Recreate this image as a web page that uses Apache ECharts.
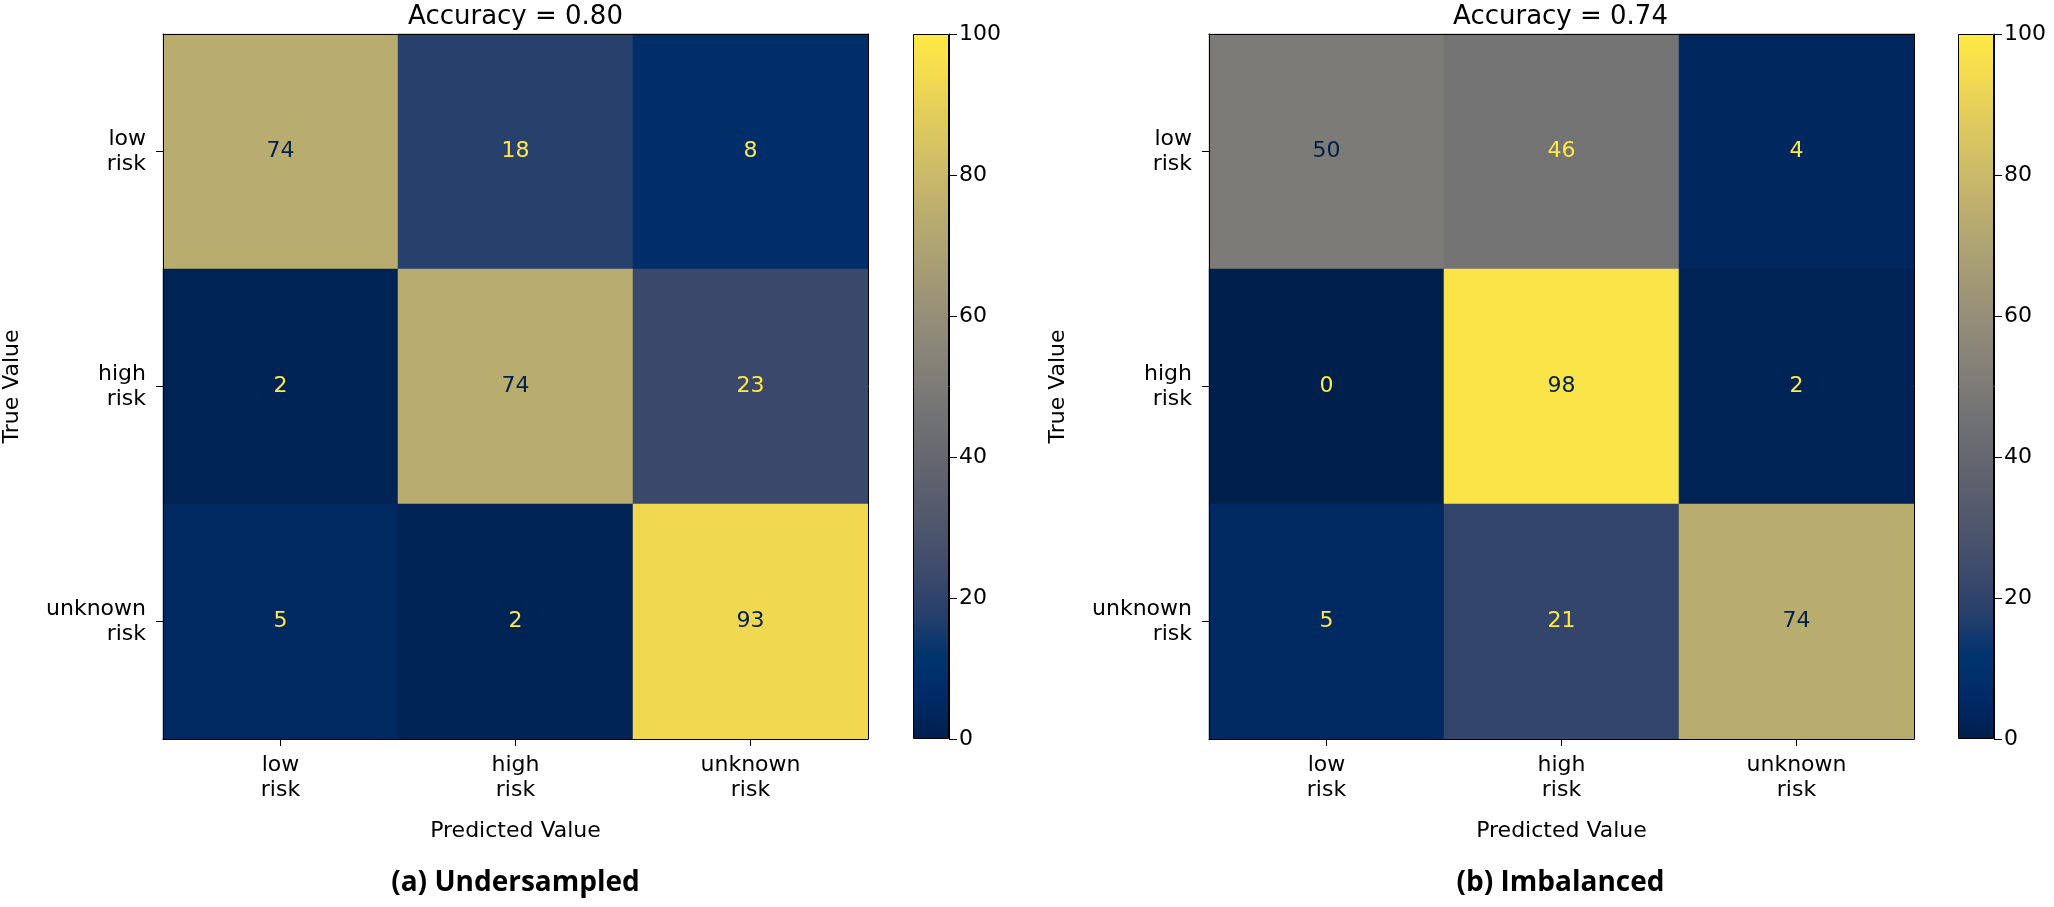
<!DOCTYPE html>
<html>
<head>
<meta charset="utf-8">
<title>Confusion matrices</title>
<script src="https://cdn.jsdelivr.net/npm/echarts@6/dist/echarts.min.js"></script>
<style>
  html, body { margin: 0; padding: 0; background: #fff; }
  #chart { width: 2054px; height: 907px; }
</style>
</head>
<body>
<div id="chart"></div>
<script>
// data
var categories = ['low\nrisk', 'high\nrisk', 'unknown\nrisk'];
// rows = true value, columns = predicted value
var undersampled = [
  [74, 18, 8],
  [2, 74, 23],
  [5, 2, 93]
];
var imbalanced = [
  [50, 46, 4],
  [0, 98, 2],
  [5, 21, 74]
];
var titles = ['Accuracy = 0.80', 'Accuracy = 0.74'];
var captions = ['(a) Undersampled', '(b) Imbalanced'];
var scaleRange = [0, 100];
var scaleStep = 20;

// cividis colormap stops
var cividis = ['#00204c', '#002a66', '#00346e', '#273f6c', '#3c4a6b', '#4c556b', '#5b5f6d', '#686a70',
  '#757575', '#838178', '#928c78', '#a19876', '#b0a572', '#c0b16d', '#d1bf66', '#e1cc5c', '#f3db4f', '#ffe945'];

var FONT = 'DejaVu Sans';
var panels = [
  { left: 163, cbLeft: 913, mid: 515.5, data: undersampled },
  { left: 1209, cbLeft: 1958, mid: 1560.5, data: imbalanced }
];
var TOP = 34, SIZE = 705, CBW = 36;

// build heatmap cells with matplotlib style text colour switch
function toCells(matrix) {
  var flat = [].concat.apply([], matrix);
  var thresh = (Math.max.apply(null, flat) + Math.min.apply(null, flat)) / 2;
  var cells = [];
  matrix.forEach(function (row, r) {
    row.forEach(function (v, c) {
      cells.push({
        value: [c, r, v],
        label: { color: v < thresh ? cividis[cividis.length - 1] : cividis[0] }
      });
    });
  });
  return cells;
}

var gradStops = cividis.map(function (c, i) {
  return { offset: i / (cividis.length - 1), color: c };
});

var grid = [], xAxis = [], yAxis = [], series = [], title = [];

panels.forEach(function (p, k) {
  var g = grid.length;
  grid.push({ left: p.left, top: TOP, width: SIZE, height: SIZE });
  grid.push({ left: p.cbLeft, top: TOP, width: CBW, height: SIZE });

  var lineStyle = { color: '#000', width: 1 };
  // heatmap axes
  var xi = xAxis.length, yi = yAxis.length;
  xAxis.push({
    type: 'category', gridIndex: g, data: categories, z: 10,
    name: 'Predicted Value', nameLocation: 'middle', nameGap: 81,
    nameTextStyle: { fontFamily: FONT, fontSize: 22, color: '#000' },
    axisLine: { show: true, lineStyle: lineStyle },
    axisTick: { show: true, alignWithLabel: true, length: 7, lineStyle: lineStyle },
    axisLabel: { fontFamily: FONT, fontSize: 22, lineHeight: 25, color: '#000', margin: 14 },
    splitLine: { show: false }
  });
  xAxis.push({
    type: 'category', gridIndex: g, data: categories, position: 'top', z: 10,
    axisLine: { show: true, lineStyle: lineStyle },
    axisTick: { show: false }, axisLabel: { show: false }
  });
  yAxis.push({
    type: 'category', gridIndex: g, data: categories, inverse: true, z: 10,
    name: 'True Value', nameLocation: 'middle', nameGap: 140,
    nameTextStyle: { fontFamily: FONT, fontSize: 22, color: '#000' },
    axisLine: { show: true, lineStyle: lineStyle },
    axisTick: { show: true, alignWithLabel: true, length: 7, lineStyle: lineStyle },
    axisLabel: { fontFamily: FONT, fontSize: 22, lineHeight: 25, color: '#000', margin: 17, align: 'right' },
    splitLine: { show: false }
  });
  yAxis.push({
    type: 'category', gridIndex: g, data: categories, inverse: true, position: 'right', z: 10,
    axisLine: { show: true, lineStyle: lineStyle },
    axisTick: { show: false }, axisLabel: { show: false }
  });
  series.push({
    type: 'heatmap', xAxisIndex: xi, yAxisIndex: yi,
    data: toCells(p.data),
    label: { show: true, fontFamily: FONT, fontSize: 22 },
    emphasis: { disabled: true }
  });

  // colorbar axes
  var cxi = xAxis.length, cyi = yAxis.length;
  xAxis.push({ type: 'category', gridIndex: g + 1, data: [''], show: false });
  yAxis.push({
    type: 'value', gridIndex: g + 1, position: 'right', z: 10,
    min: scaleRange[0], max: scaleRange[1], interval: scaleStep,
    axisLine: { show: true, lineStyle: lineStyle },
    axisTick: { show: true, length: 8, lineStyle: lineStyle },
    axisLabel: { fontFamily: FONT, fontSize: 22, color: '#000', margin: 10 },
    splitLine: { show: false }
  });
  series.push({
    type: 'bar', xAxisIndex: cxi, yAxisIndex: cyi, barWidth: '100%',
    data: [scaleRange[1]], silent: true,
    itemStyle: {
      color: new echarts.graphic.LinearGradient(0, 1, 0, 0, gradStops),
      borderColor: '#000', borderWidth: 1
    }
  });

  title.push({
    text: titles[k], left: p.mid, top: 4, textAlign: 'center', padding: 0,
    textStyle: { fontFamily: FONT, fontSize: 26, fontWeight: 'normal', color: '#000' }
  });
  title.push({
    text: captions[k], left: p.mid, top: 869, textAlign: 'center', padding: 0,
    textStyle: { fontFamily: 'Open Sans', fontSize: 28, fontWeight: 'bold', color: '#000' }
  });
});

var chart = echarts.init(document.getElementById('chart'));
chart.setOption({
  animation: false,
  backgroundColor: '#fff',
  title: title,
  grid: grid,
  xAxis: xAxis,
  yAxis: yAxis,
  visualMap: [{
    show: false, type: 'continuous', min: scaleRange[0], max: scaleRange[1],
    seriesIndex: [0, 2], dimension: 2,
    inRange: { color: cividis }
  }],
  series: series
});
</script>
</body>
</html>
